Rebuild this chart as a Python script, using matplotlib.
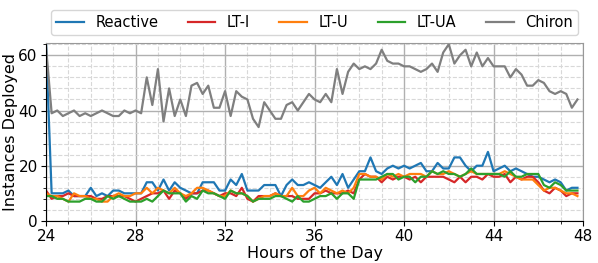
import numpy as np
import matplotlib
matplotlib.use('Agg')
import matplotlib.pyplot as plt
from matplotlib.ticker import MultipleLocator

# 15-minute samples, hour 24.00 .. 47.75
hours = np.arange(24, 48, 0.25)

reactive = [64,
            10, 10, 10, 11, 9, 9, 9, 12, 9, 10, 9, 11, 11, 10, 10, 10,
            10, 14, 14, 11, 15, 11, 14, 12, 11, 10, 10, 14, 14, 14, 11, 11,
            15, 13, 17, 11, 11, 11, 13, 13, 13, 9, 13, 15, 13, 13, 14, 13,
            12, 14, 16, 13, 17, 12, 15, 18, 18, 23, 18, 17, 19, 20, 19, 20,
            19, 20, 21, 18, 18, 21, 19, 19, 23, 23, 20, 18, 20, 20, 25, 18,
            19, 20, 18, 19, 18, 17, 16, 16, 15, 14, 15, 14, 11, 12, 12]
lt_i = [11,
        8, 9, 9, 10, 9, 9, 9, 9, 8, 8, 9, 9, 9, 9, 8, 7,
        8, 9, 10, 10, 11, 8, 11, 10, 8, 10, 10, 11, 11, 10, 9, 10,
        10, 9, 12, 8, 7, 9, 9, 9, 10, 9, 9, 9, 8, 8, 8, 10,
        10, 11, 10, 10, 10, 11, 10, 15, 17, 16, 16, 14, 16, 15, 16, 16,
        15, 16, 14, 16, 16, 16, 16, 15, 14, 16, 14, 16, 16, 15, 17, 16,
        16, 17, 14, 16, 15, 16, 16, 14, 11, 10, 12, 11, 9, 10, 10]
lt_u = [10,
        9, 9, 8, 7, 10, 9, 9, 8, 8, 7, 7, 9, 10, 9, 9, 10,
        10, 12, 10, 12, 11, 10, 12, 10, 9, 10, 12, 12, 11, 10, 9, 9,
        11, 10, 10, 9, 7, 8, 9, 9, 10, 9, 9, 12, 9, 9, 11, 12,
        10, 12, 11, 10, 11, 10, 12, 17, 17, 16, 16, 15, 17, 16, 17, 16,
        17, 17, 17, 16, 18, 17, 17, 18, 17, 16, 17, 18, 17, 17, 17, 17,
        17, 18, 17, 16, 15, 15, 15, 13, 11, 12, 12, 11, 10, 10, 9]
lt_ua = [9,
         9, 8, 8, 7, 7, 7, 8, 8, 7, 7, 9, 8, 9, 8, 7, 7,
         7, 8, 7, 9, 11, 10, 10, 10, 7, 9, 8, 11, 10, 10, 9, 8,
         11, 10, 10, 9, 7, 8, 8, 8, 9, 9, 8, 7, 9, 7, 7, 8,
         9, 9, 10, 8, 10, 10, 8, 15, 15, 15, 15, 16, 17, 17, 15, 16,
         16, 14, 16, 16, 18, 17, 18, 17, 17, 16, 17, 19, 17, 17, 17, 17,
         17, 16, 18, 16, 16, 17, 17, 17, 13, 12, 14, 13, 11, 11, 11]
chiron = [63,
          39, 40, 38, 39, 40, 38, 39, 38, 39, 40, 39, 38, 38, 40, 39, 40, 39,
          52, 42, 55, 36, 48, 38, 44, 38, 49, 50, 46, 49, 41, 41, 47, 38, 47,
          45, 44, 37, 34, 43, 40, 37, 37, 42, 43, 40, 43, 46, 44, 43, 46, 43,
          55, 46, 54, 57, 55, 56, 55, 57, 62, 58, 57, 57, 56, 56, 55,
          54, 55, 57, 54, 61, 64, 57, 60, 62, 56, 61, 56, 59, 56, 56, 56,
          52, 55, 53, 49, 49, 51, 50, 47, 46, 47, 46, 41, 44]

series = [('Reactive', reactive, 'tab:blue'),
          ('LT-I', lt_i, 'tab:red'),
          ('LT-U', lt_u, 'tab:orange'),
          ('LT-UA', lt_ua, 'tab:green'),
          ('Chiron', chiron, 'tab:gray')]

plt.rcParams['font.size'] = 10.5

fig, ax = plt.subplots(figsize=(5.98, 2.63), dpi=100)
fig.subplots_adjust(left=0.077, right=0.975, top=0.837, bottom=0.16)

for name, vals, col in series:
    ax.plot(hours, vals, color=col, lw=1.6, label=name)

ax.set_xlim(24, 48)
ax.set_ylim(0, 64.5)
ax.xaxis.set_major_locator(MultipleLocator(4))
ax.xaxis.set_minor_locator(MultipleLocator(1))
ax.yaxis.set_major_locator(MultipleLocator(20))
ax.yaxis.set_minor_locator(MultipleLocator(4))
ax.tick_params(which='major', labelsize=11, pad=2.5)
ax.grid(which='major', color='#b0b0b0', lw=1.0)
ax.grid(which='minor', color='#d8d8d8', lw=0.8, ls='--')
ax.set_axisbelow(True)
for s in ['top', 'right']:
    ax.spines[s].set_color('#999999')

ax.set_xlabel('Hours of the Day', fontsize=11.5, labelpad=1)
ax.set_ylabel('Instances Deployed', fontsize=11.5, labelpad=0.5)

ax.legend(loc='lower center', bbox_to_anchor=(0.5, 1.045), ncol=5,
          frameon=True, borderaxespad=0, handlelength=1.9,
          columnspacing=2.0, handletextpad=0.8, borderpad=0.35)

fig.savefig('out.png', dpi=100)
